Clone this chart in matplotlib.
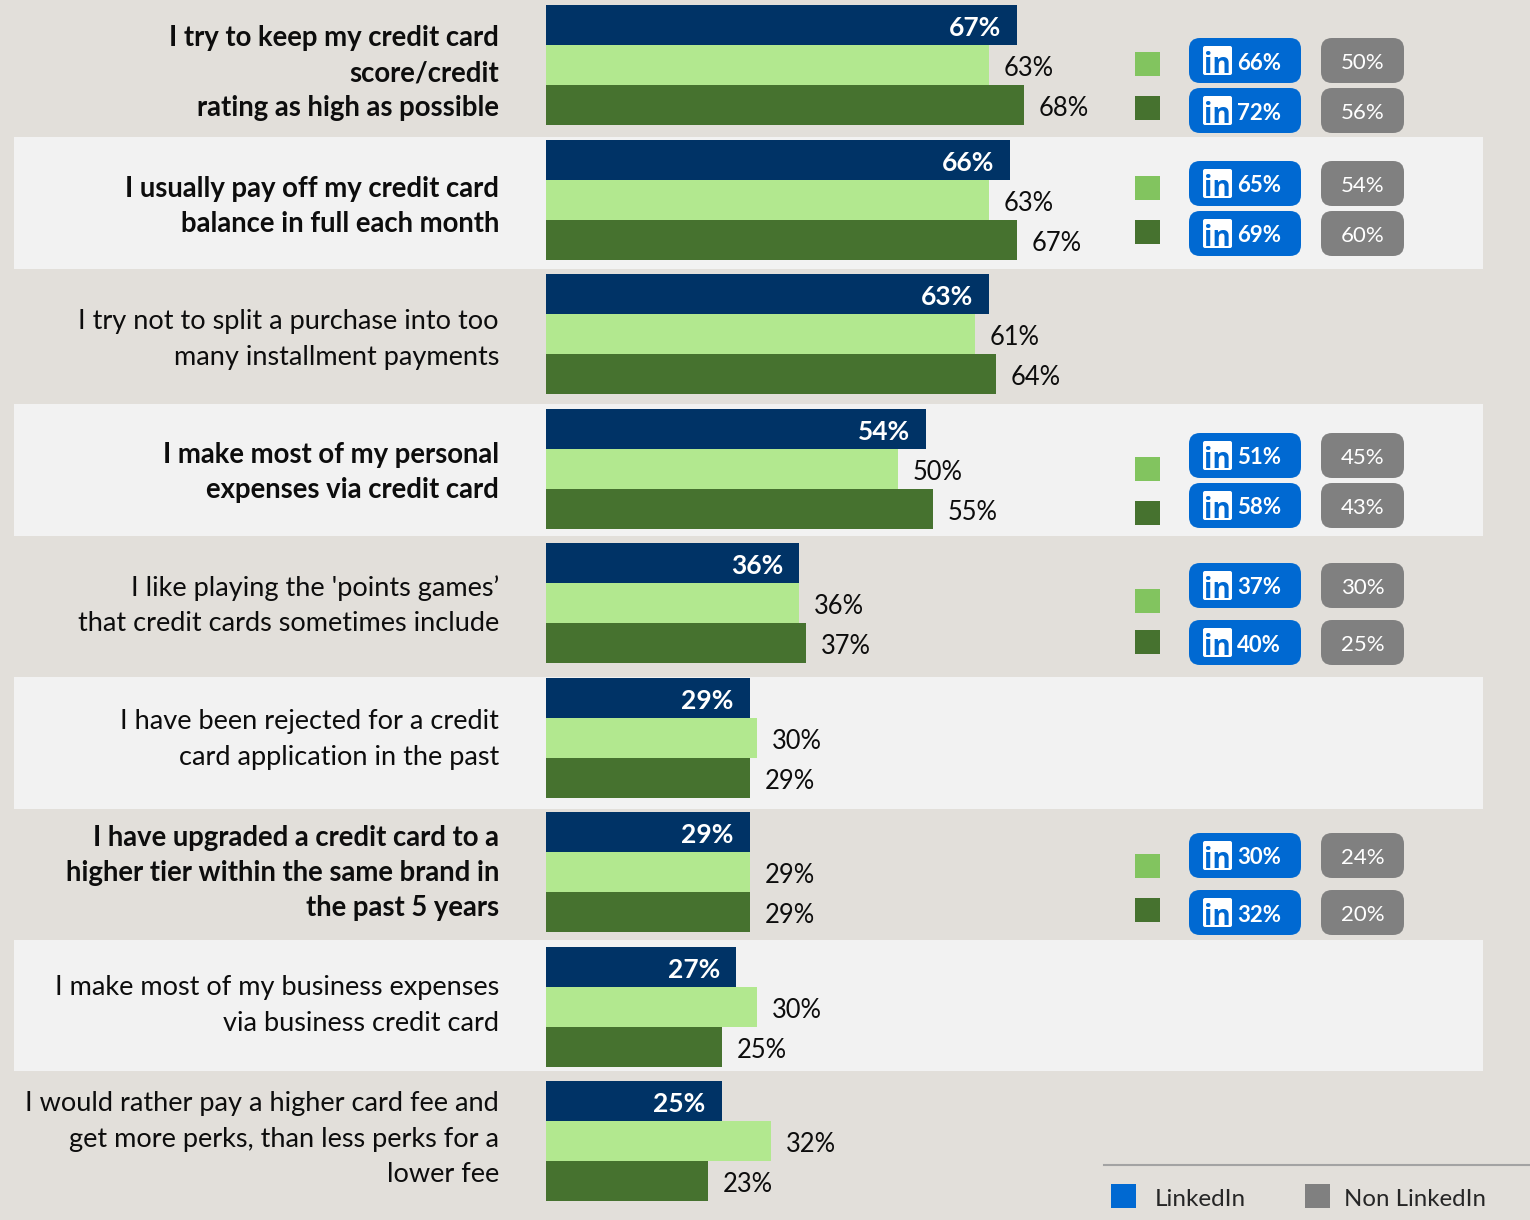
import matplotlib
matplotlib.use("Agg")
import matplotlib.pyplot as plt
from matplotlib.patches import FancyBboxPatch, Rectangle

plt.rcParams['font.family'] = ['Lato', 'DejaVu Sans']

statements = [
    "I try to keep my credit card\nscore/credit\nrating as high as possible",
    "I usually pay off my credit card\nbalance in full each month",
    "I try not to split a purchase into too\nmany installment payments",
    "I make most of my personal\nexpenses via credit card",
    "I like playing the 'points games’\nthat credit cards sometimes include",
    "I have been rejected for a credit\ncard application in the past",
    "I have upgraded a credit card to a\nhigher tier within the same brand in\nthe past 5 years",
    "I make most of my business expenses\nvia business credit card",
    "I would rather pay a higher card fee and\nget more perks, than less perks for a\nlower fee",
]
bold_rows = [0, 1, 3, 6]
total = [67, 66, 63, 54, 36, 29, 29, 27, 25]
light = [63, 63, 61, 50, 36, 30, 29, 30, 32]
dark = [68, 67, 64, 55, 37, 29, 29, 25, 23]

# rows that carry the LinkedIn / non LinkedIn comparison
badge_rows = [0, 1, 3, 4, 6]
linkedin_light = [66, 65, 51, 37, 30]
linkedin_dark = [72, 69, 58, 40, 32]
other_light = [50, 54, 45, 30, 24]
other_dark = [56, 60, 43, 25, 20]

BG = "#E2DFDA"
PALE = "#F2F2F2"
NAVY = "#003366"
LIGHT = "#B2E88F"
DARK = "#46722F"
SQ_LIGHT = "#82C45F"
BLUE = "#0069D2"
GREY = "#808080"
INK = "#0D0D0D"

W, H = 1530, 1220
fig = plt.figure(figsize=(W / 100, H / 100), dpi=100, facecolor=BG)

# pixel-space layer for bands, labels and badges
ov = fig.add_axes([0, 0, 1, 1], zorder=1)
ov.set_xlim(0, W)
ov.set_ylim(H, 0)
ov.axis("off")

# bars get their own axes: one unit of y is one statement
step = 134.45
first = 65.4
px_per_pct = 7.03
x0 = 546
ax = fig.add_axes([x0 / W, 0, 1 - x0 / W, 1], zorder=2)
ax.patch.set_alpha(0)
ax.set_xlim(0, (W - x0) / px_per_pct)
ax.set_ylim((H - first) / step, -first / step)
ax.axis("off")

for top, bottom in [(137, 269), (404, 536), (677, 809), (940, 1071)]:
    ov.add_patch(Rectangle((14, top), 1469, bottom - top, fc=PALE, ec="none"))

bar_h = 40 / step
for i in range(len(total)):
    ax.barh(i - bar_h, total[i], height=bar_h, color=NAVY)
    ax.barh(i, light[i], height=bar_h, color=LIGHT)
    ax.barh(i + bar_h, dark[i], height=bar_h, color=DARK)
    ax.annotate(f"{total[i]}%", (total[i], i - bar_h), xytext=(-16, -1),
                textcoords="offset pixels", ha="right", va="center_baseline",
                color="white", fontsize=19, fontweight="bold")
    ax.annotate(f"{light[i]}%", (light[i], i), xytext=(15, -1),
                textcoords="offset pixels", ha="left", va="center_baseline",
                color=INK, fontsize=18.4)
    ax.annotate(f"{dark[i]}%", (dark[i], i + bar_h), xytext=(15, -1),
                textcoords="offset pixels", ha="left", va="center_baseline",
                color=INK, fontsize=18.4)

# statement text, right aligned against the bars
first_line_y = [35.5, 186.5, 319.5, 452.5, 586, 719.5, 835.5, 985.5, 1101.5]
for i, s in enumerate(statements):
    is_bold = i in bold_rows
    for k, line in enumerate(s.split("\n")):
        ov.text(499, first_line_y[i] + 35.2 * k, line, ha="right", va="center_baseline",
                fontsize=19.8 if is_bold else 19.5, color=INK,
                fontweight="bold" if is_bold else "normal")


def badge(x, y, w, h, color):
    ov.add_patch(FancyBboxPatch((x + 9, y + 9), w - 18, h - 18,
                                boxstyle="round,pad=9,rounding_size=11",
                                fc=color, ec="none"))


badge_y = [(61, 111), (184, 234), (456, 506), (586, 643), (856, 913)]
square_y = [(64, 108), (188, 232), (469, 513), (601, 642), (866, 910)]

for n in range(len(badge_rows)):
    vals = [(linkedin_light[n], other_light[n]), (linkedin_dark[n], other_dark[n])]
    for j, (li, other) in enumerate(vals):
        yc = badge_y[n][j]
        badge(1189, yc - 23, 112, 45, BLUE)
        badge(1321, yc - 23, 83, 45, GREY)
        ov.add_patch(FancyBboxPatch((1205, yc - 13), 25, 25,
                                    boxstyle="round,pad=2,rounding_size=2",
                                    fc="white", ec="none"))
        ov.text(1217.5, yc + 1, "in", ha="center", va="center_baseline", color=BLUE,
                fontsize=20, fontweight="bold", family="Open Sans")
        ov.text(1259, yc, f"{li}%", ha="center", va="center_baseline", color="white",
                fontsize=16, fontweight="bold")
        ov.text(1362.5, yc, f"{other}%", ha="center", va="center_baseline", color="white",
                fontsize=16)
        ov.add_patch(Rectangle((1135, square_y[n][j] - 12), 25, 24,
                               fc=SQ_LIGHT if j == 0 else DARK, ec="none"))

# legend at the bottom right
ov.plot([1104, W], [1165, 1165], color="#A3A3A3", lw=1.5)
ov.add_patch(Rectangle((1111, 1184), 25, 24, fc=BLUE, ec="none"))
ov.add_patch(Rectangle((1305, 1184), 25, 24, fc=GREY, ec="none"))
ov.text(1155, 1197, "LinkedIn", ha="left", va="center_baseline", fontsize=17.5, color="#262626")
ov.text(1344, 1197, "Non LinkedIn", ha="left", va="center_baseline", fontsize=17.3, color="#262626")

fig.savefig("out.png", dpi=100, facecolor=BG)
